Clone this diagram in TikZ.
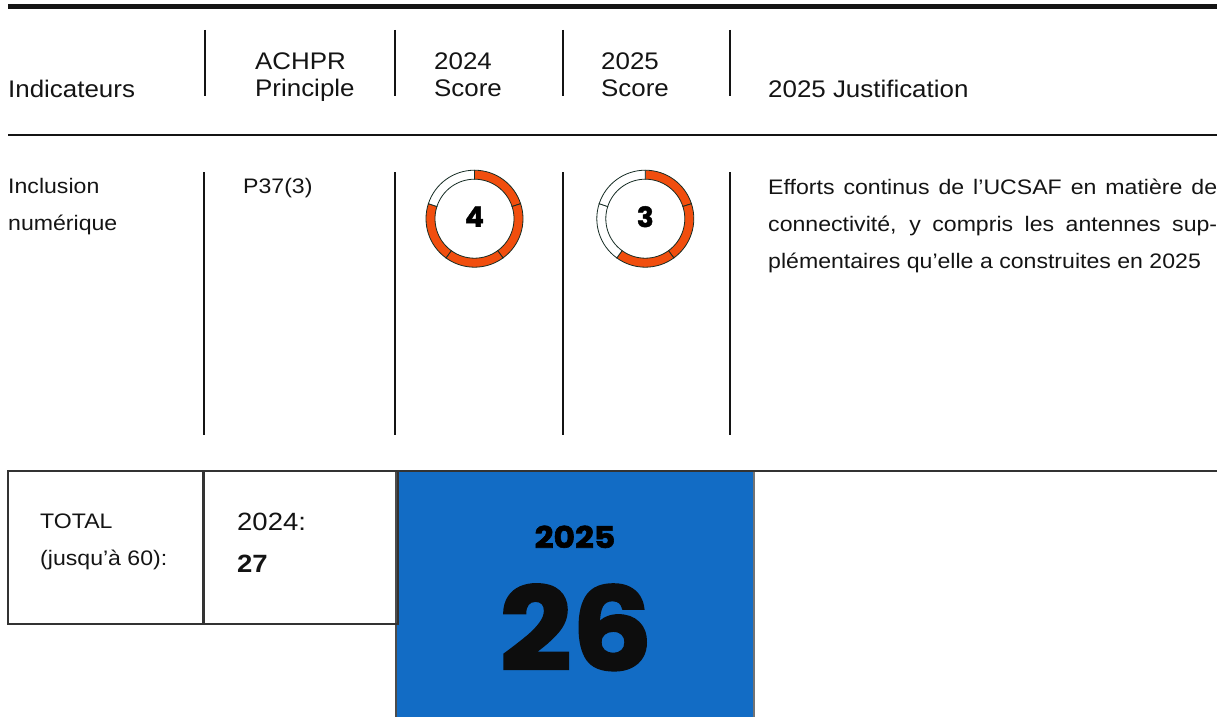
\documentclass[tikz,border=0pt]{standalone}
\usepackage{fontspec}
\setmainfont{Liberation Sans}[FakeStretch=1.08]
\newfontfamily\bodyf{Liberation Sans}[FakeStretch=1.1]
\newfontfamily\heavy{Poppins}[BoldFeatures={FakeBold=1.5}]
\newfontfamily\heavywide{Poppins}[FakeStretch=1.1, BoldFeatures={FakeBold=2}]
\definecolor{ringor}{RGB}{241,78,14}
\definecolor{ringline}{RGB}{22,44,36}
\definecolor{bluebox}{RGB}{18,108,197}
\definecolor{ink}{RGB}{20,20,20}
\begin{document}
\begin{tikzpicture}[x=1pt,y=-1pt,
  hdr/.style={anchor=base west, inner sep=0pt, text=ink, font=\fontsize{24}{26}\selectfont},
  body/.style={anchor=base west, inner sep=0pt, text=ink, font=\bodyf\fontsize{21}{25}\selectfont},
  sepline/.style={line width=1.3pt, draw=ink},
  boxline/.style={line width=1.2pt, draw=black!80},
  seg/.style={draw=ringline, line width=0.8pt},
  num/.style={inner sep=0pt, text=black, font=\heavy\bfseries\fontsize{28}{28}\selectfont}]
\useasboundingbox (0,0) rectangle (1224,717);
% top rule
\draw[line width=5pt, draw=ink] (8,6.5) -- (1217,6.5);
% header separators
\foreach \xx in {205,395,563,730} \draw[sepline] (\xx,30) -- (\xx,96);
% header texts
\node[hdr] (h1) at (8,97) {Indicateurs};
\node[hdr] (h2a) at (255,70) {ACHPR};
\node[hdr] (h2b) at (255,96) {Principle};
\node[hdr] (h3a) at (434,70) {2024};
\node[hdr] (h3b) at (434,96) {Score};
\node[hdr] (h4a) at (601,70) {2025};
\node[hdr] (h4b) at (601,96) {Score};
\node[hdr] (h5) at (768,97) {2025 Justification};
% header rule
\draw[line width=1.4pt, draw=ink] (8,135) -- (1217,135);
% row separators
\foreach \xx in {204,395,563,730} \draw[sepline] (\xx,172) -- (\xx,435);
% row texts
\node[body] (r1a) at (8,193) {Inclusion};
\node[body] (r1b) at (8,230) {numérique};
\node[body] (r2) at (243,193) {P37(3)};
\node[body] (j1) at (768,194) {\makebox[449pt][s]{Efforts continus de l’UCSAF en matière de}};
\node[body] (j2) at (768,231) {\makebox[449pt][s]{connectivité, y compris les antennes sup-}};
\node[body] (j3) at (768,268) {plémentaires qu’elle a construites en 2025};
% ring 1 (4 of 5)
\begin{scope}[shift={(474.5,218.7)}, y=1pt]
  \foreach \i/\col in {0/ringor,1/ringor,2/ringor,3/ringor,4/white}{
    \pgfmathsetmacro\aa{90-72*\i}
    \pgfmathsetmacro\ab{90-72*(\i+1)}
    \filldraw[seg, fill=\col] (\aa:48.5) arc[start angle=\aa, end angle=\ab, radius=48.5]
      -- (\ab:39.5) arc[start angle=\ab, end angle=\aa, radius=39.5] -- cycle;
  }
  \node[num] (s1) at (0,2) {4};
\end{scope}
% ring 2 (3 of 5)
\begin{scope}[shift={(645.3,218.7)}, y=1pt]
  \foreach \i/\col in {0/ringor,1/ringor,2/ringor,3/white,4/white}{
    \pgfmathsetmacro\aa{90-72*\i}
    \pgfmathsetmacro\ab{90-72*(\i+1)}
    \filldraw[seg, fill=\col] (\aa:48.5) arc[start angle=\aa, end angle=\ab, radius=48.5]
      -- (\ab:39.5) arc[start angle=\ab, end angle=\aa, radius=39.5] -- cycle;
  }
  \node[num] (s2) at (0,2) {3};
\end{scope}
% bottom total area
\fill[bluebox] (396,471) rectangle (754,717);
\draw[line width=1.2pt, draw=black!70] (396,471) -- (396,717);
\draw[line width=1.2pt, draw=black!55] (754,471) -- (754,717);
\draw[boxline] (8,471) rectangle (203,624);
\draw[boxline] (204,471) rectangle (398,624);
\draw[line width=1.8pt, draw=black!80] (8,471) -- (1217,471);
\node[body] (t1) at (40,528) {TOTAL};
\node[body] (t2) at (40,565) {(jusqu’à 60):};
\node[anchor=base west, inner sep=0pt, text=ink, font=\bodyf\fontsize{25}{27}\selectfont] (t3) at (237,530) {2024:};
\node[anchor=base west, inner sep=0pt, text=ink, font=\bodyf\bfseries\fontsize{25}{27}\selectfont] (t4) at (237,572) {27};
\node[anchor=base, inner sep=0pt, text=black, font=\heavywide\bfseries\fontsize{30}{30}\selectfont] (y25) at (575,548) {2025};
\node[anchor=base, inner sep=0pt, text=black!95, font=\heavywide\bfseries\fontsize{115}{115}\selectfont] (tot) at (576,670) {26};
\end{tikzpicture}
\end{document}
